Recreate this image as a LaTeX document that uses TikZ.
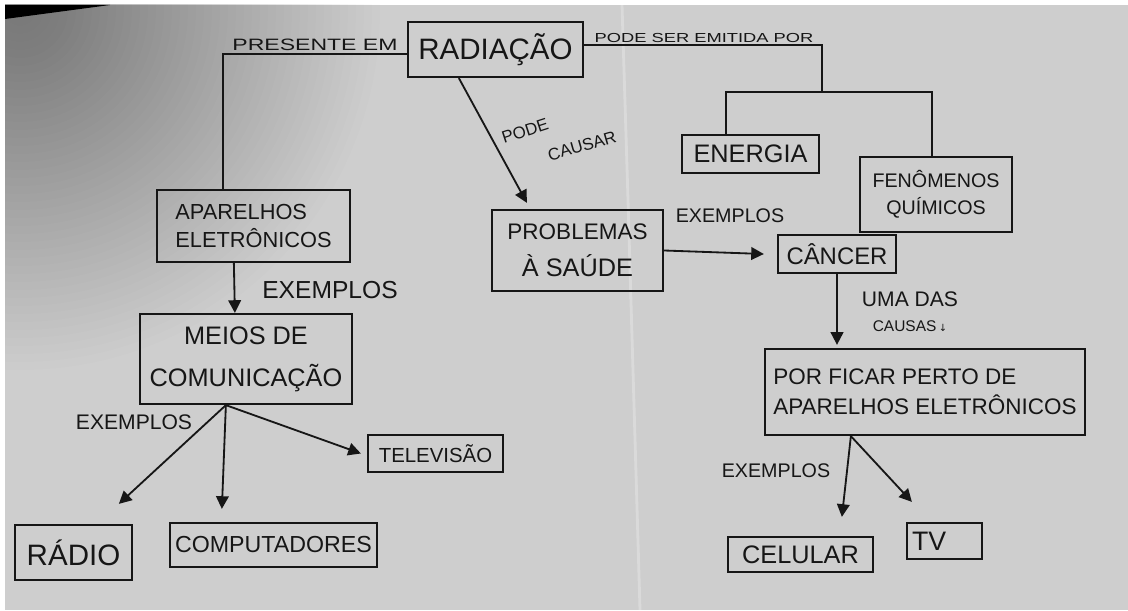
\documentclass[tikz,border=0pt]{standalone}
\usepackage{fontspec}
\setmainfont{Liberation Sans}
\newfontfamily\handw{Liberation Sans}[FakeStretch=1.4]
\newfontfamily\symb{DejaVu Sans}
\usetikzlibrary{arrows.meta,calc}
\definecolor{paper}{RGB}{206,206,206}
\definecolor{ink}{RGB}{22,22,22}
\newcommand\fsz[2]{\fontsize{#1}{#2}\selectfont}

\begin{document}
\begin{tikzpicture}[x=0.025cm,y=-0.025cm,
  box/.style 2 args={draw=ink,line width=1.6pt,minimum width={#1*0.025cm},
    minimum height={#2*0.025cm},inner sep=0pt,align=center,text=ink},
  lbl/.style={text=ink,inner sep=1pt,align=center},
  link/.style={draw=ink,line width=1.3pt},
  arr/.style={link,-{Triangle[length=9pt,width=9pt]}}]

% sheet of paper, darker towards the upper left corner
\useasboundingbox (0,0) rectangle (1128,610);
\fill[white] (0,0) rectangle (1128,610);
\begin{scope}
  \clip (5,5) rectangle (1128,610);
  \fill[paper] (5,5) rectangle (1128,610);
  \foreach \r in {8,16,...,360}
    \fill[black,opacity=0.009] (20,10) circle (\r);
  \fill[black] (5,5) -- (110,5) -- (5,19) -- cycle;
  \draw[white,opacity=0.25,line width=2pt] (622,5) -- (628,200) -- (640,610);
\end{scope}

% concepts
\node[box={175}{55},font=\fsz{21}{25}] (rad) at (495.5,49.5) {RADIAÇÃO};
\node[box={137}{38},font=\fsz{18}{21}] (ene) at (750.5,154) {ENERGIA};
\node[box={152}{75},font=\fsz{14}{19}] (fen) at (936,194.5) {FENÔMENOS\\QUÍMICOS};
\node[box={171}{81},font=\fsz{16}{26}] (prob) at (577.5,250.5)
  {PROBLEMAS\\{\fsz{18}{26}À SAÚDE}};
\node[box={118}{38},font=\fsz{17}{20}] (can) at (837,254) {CÂNCER};
\node[box={320}{86},align=left,font=\fsz{16}{21}] (por) at (925,392)
  {POR FICAR PERTO DE\\APARELHOS ELETRÔNICOS};
\node[box={145}{35},font=\fsz{18}{21}] (cel) at (800.5,554.5) {CELULAR};
\node[box={75}{36},text width={65*0.025cm},align=left,font=\fsz{19}{22}] (tv)
  at (944.5,541) {TV};
\node[box={193}{72},align=left,font=\fsz{15.5}{20}] (apar) at (253.5,226)
  {APARELHOS\\ELETRÔNICOS};
\node[box={212}{90},font=\fsz{18}{30}] (meios) at (246,359) {MEIOS DE\\COMUNICAÇÃO};
\node[box={117}{55},font=\fsz{21}{25}] (radio) at (73.5,552.5) {RÁDIO};
\node[box={207}{44},font=\fsz{16.5}{20}] (comp) at (273.5,545) {COMPUTADORES};
\node[box={135}{37},font=\fsz{14.5}{18}] (tel) at (435.5,453.5) {TELEVISÃO};

% link phrases
\node[lbl,anchor=south,font=\handw\fsz{11.7}{14}] (lpres) at (315,52) {PRESENTE EM};
\node[lbl,anchor=south,font=\handw\fsz{9.3}{12}] (lemit) at (704,44) {PODE SER EMITIDA POR};
\node[lbl,rotate=18,font=\fsz{12}{14}] (lpode) at (525,131) {PODE};
\node[lbl,rotate=16,font=\fsz{12}{14}] (lcausar) at (582,146) {CAUSAR};
\node[lbl,font=\fsz{14}{16}] (lex1) at (730,216) {EXEMPLOS};
\node[lbl,font=\fsz{17.5}{20}] (lex2) at (330,290) {EXEMPLOS};
\node[lbl,font=\fsz{15}{18}] (lex3) at (134,422) {EXEMPLOS};
\node[lbl,font=\fsz{14}{16}] (lex4) at (776,471) {EXEMPLOS};
\node[lbl,font=\fsz{15}{18}] (luma) at (910,312)
  {UMA DAS\\{\fsz{11}{18}CAUSAS\,{\symb\fsz{7}{8}↓}}};

% connectors
\coordinate (jr) at (822,92);
\draw[link] (rad.183) -| ($(apar.north west)+(67,0)$);
\draw[link] (rad.3) -- (rad.3 -| jr) -- (jr);
\draw[link] ($(ene.north west)+(45,0)$) |- (jr);
\draw[link] ($(fen.north west)+(73,0)$) |- (jr);

\draw[arr] (rad.218) -- ($(prob.north west)+(36,-6)$);
\draw[arr] (prob.east) -- ($(can.west)+(-13,0)$);
\draw[arr] (can.south) -- ($(can.south |- por.north)+(0,-3)$);
\draw[arr] ($(por.south west)+(87,0)$) -- ($(cel.north west)+(115,-19)$);
\draw[arr] ($(por.south west)+(87,0)$) -- ($(tv.north west)+(6,-20)$);

\draw[arr] ($(apar.south west)+(78,0)$) -- ($(meios.north west)+(96,0)$);
\draw[arr] ($(meios.south west)+(87,0)$) -- ($(radio.north west)+(105,-20)$);
\draw[arr] ($(meios.south west)+(87,0)$) -- ($(comp.north west)+(53,-13)$);
\draw[arr] ($(meios.south west)+(87,0)$) -- ($(tel.west)+(-6,0)$);
\end{tikzpicture}
\end{document}
